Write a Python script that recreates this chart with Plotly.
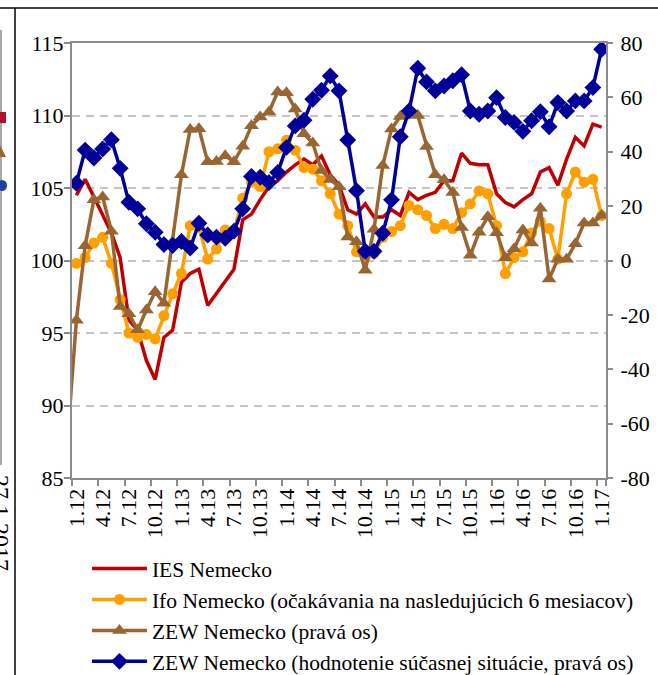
import plotly.graph_objects as go

# ---------------- data ----------------
months = [
    "12.11",
    "1.12", "2.12", "3.12", "4.12", "5.12", "6.12", "7.12", "8.12", "9.12", "10.12", "11.12", "12.12",
    "1.13", "2.13", "3.13", "4.13", "5.13", "6.13", "7.13", "8.13", "9.13", "10.13", "11.13", "12.13",
    "1.14", "2.14", "3.14", "4.14", "5.14", "6.14", "7.14", "8.14", "9.14", "10.14", "11.14", "12.14",
    "1.15", "2.15", "3.15", "4.15", "5.15", "6.15", "7.15", "8.15", "9.15", "10.15", "11.15", "12.15",
    "1.16", "2.16", "3.16", "4.16", "5.16", "6.16", "7.16", "8.16", "9.16", "10.16", "11.16", "12.16",
    "1.17",
]
tick_labels = ["1.12", "4.12", "7.12", "10.12", "1.13", "4.13", "7.13", "10.13",
               "1.14", "4.14", "7.14", "10.14", "1.15", "4.15", "7.15", "10.15",
               "1.16", "4.16", "7.16", "10.16", "1.17"]
left_ticks = [85, 90, 95, 100, 105, 110, 115]
right_ticks = [-80, -60, -40, -20, 0, 20, 40, 60, 80]
right_tick_text = ["-80", "-60", "-40", "-20", "0", "20", "40", "60", "80"]

# IES Nemecko (left axis), 1.12 - 1.17
ies = [104.5, 105.6, 104.4, 103.1, 101.9, 100.2, 95.9, 95.2, 93.1, 91.8, 94.7, 95.2,
       98.5, 99.1, 99.4, 96.9, 97.7, 98.6, 99.4, 102.8, 103.2, 104.2, 105.1, 105.5,
       106.1, 106.6, 107.0, 106.6, 107.2, 105.9, 105.2, 103.5, 103.2, 103.9, 103.0, 103.0,
       103.5, 103.1, 104.7, 104.2, 104.5, 104.7, 105.5, 105.5, 107.4, 106.7, 106.6, 106.6,
       104.6, 104.0, 103.7, 104.2, 104.6, 106.1, 106.4, 105.2, 107.0, 108.5, 107.9, 109.4,
       109.2]

# Ifo Nemecko - expectations (left axis)
ifo = [99.8, 100.2, 101.2, 101.6, 99.8, 97.3, 95.0, 94.7, 94.9, 94.6, 96.2, 97.7,
       99.1, 102.4, 102.3, 100.1, 100.8, 102.1, 102.0, 104.3, 105.4, 105.1, 107.5, 107.7,
       108.3, 107.6, 106.4, 106.3, 105.5, 104.6, 103.2, 102.4, 100.6, 100.2, 100.5, 101.6,
       102.0, 102.4, 103.8, 103.5, 103.1, 102.2, 102.5, 102.2, 103.3, 103.9, 104.8, 104.6,
       102.4, 99.1, 100.2, 100.6, 101.9, 102.7, 102.2, 100.1, 104.6, 106.1, 105.4, 105.6,
       103.1]

# ZEW Nemecko - sentiment (right axis); value for 12.11 only enters the line from the left
zew_prev = -65.0
zew = [-22.0, 5.4, 22.3, 23.4, 10.8, -16.9, -19.6, -25.5, -18.2, -11.5, -15.7, 6.9,
       31.5, 48.2, 48.5, 36.3, 36.4, 38.5, 36.3, 42.0, 49.6, 52.8, 54.6, 62.0,
       61.7, 55.7, 46.6, 43.2, 33.1, 29.8, 27.1, 8.6, 6.9, -3.6, 11.5, 34.9,
       48.4, 53.0, 54.8, 53.3, 41.9, 31.5, 29.7, 25.0, 12.1, 1.9, 10.4, 16.1,
       10.2, 1.0, 4.3, 11.2, 6.4, 19.2, -6.8, 0.5, 0.5, 6.2, 13.8, 13.8,
       16.6]

# ZEW Nemecko - current situation (right axis)
zew_cur = [28.4, 40.6, 37.7, 41.0, 44.4, 33.9, 21.4, 19.0, 13.5, 10.4, 5.9, 5.5,
           7.0, 4.6, 13.7, 9.4, 8.6, 8.2, 10.8, 19.0, 30.9, 30.6, 28.7, 32.4,
           41.6, 49.5, 51.6, 59.3, 62.6, 67.9, 62.4, 44.3, 25.7, 3.4, 3.4, 10.0,
           22.3, 45.5, 55.0, 70.7, 65.7, 62.4, 64.2, 66.1, 68.3, 55.0, 53.8, 55.0,
           59.9, 52.6, 50.8, 47.5, 51.4, 54.7, 49.2, 58.1, 55.0, 58.7, 58.7, 63.6,
           77.7]

names = [
    "IES Nemecko",
    "Ifo Nemecko (očakávania na nasledujúcich 6 mesiacov)",
    "ZEW Nemecko (pravá os)",
    "ZEW Nemecko (hodnotenie súčasnej situácie, pravá os)",
]

RED = "#C00000"
ORANGE = "#FFA000"
BROWN = "#996633"
BLUE = "#000099"
SERIF = "Liberation Serif, Times New Roman, serif"
AXIS_GREY = "#8C8C8C"
TICK_SIZE = 22

x = months[1:]
fig = go.Figure()

fig.add_trace(go.Scatter(x=x, y=ies, name=names[0], mode="lines",
                         line=dict(color=RED, width=3.5)))
fig.add_trace(go.Scatter(x=x, y=ifo, name=names[1], mode="lines+markers",
                         line=dict(color=ORANGE, width=3.5),
                         marker=dict(symbol="circle", size=11, color=ORANGE)))
# lead-in segment of the ZEW line from the previous month
fig.add_trace(go.Scatter(x=months[:2], y=[zew_prev, zew[0]], yaxis="y2", mode="lines",
                         line=dict(color=BROWN, width=3.5), showlegend=False,
                         hoverinfo="skip"))
fig.add_trace(go.Scatter(x=x, y=zew, name=names[2], yaxis="y2", mode="lines+markers",
                         line=dict(color=BROWN, width=3.5),
                         marker=dict(symbol="triangle-up", size=13, color=BROWN)))
fig.add_trace(go.Scatter(x=x, y=zew_cur, name=names[3], yaxis="y2", mode="lines+markers",
                         line=dict(color=BLUE, width=3.5),
                         marker=dict(symbol="diamond", size=13, color=BLUE)))

fig.update_layout(
    width=658, height=675, autosize=False,
    margin=dict(l=72, r=52, t=43, b=197, autoexpand=False),
    paper_bgcolor="white", plot_bgcolor="white",
    font=dict(family=SERIF, size=TICK_SIZE, color="black"),
    xaxis=dict(
        type="category", categoryorder="array", categoryarray=months,
        range=[0.5, 61.5],
        tickmode="array", tickvals=tick_labels, ticktext=tick_labels,
        tickson="boundaries", ticks="outside", ticklen=6, tickwidth=2, tickcolor=AXIS_GREY,
        tickangle=-90, tickfont=dict(family=SERIF, size=TICK_SIZE, color="black"),
        showgrid=False, showline=True, linecolor=AXIS_GREY, linewidth=2, mirror=True,
        zeroline=False,
    ),
    yaxis=dict(
        range=[85, 115], tickmode="array", tickvals=left_ticks,
        ticktext=[str(v) for v in left_ticks],
        ticks="outside", ticklen=6, tickwidth=2, tickcolor=AXIS_GREY,
        ticklabelstandoff=-4,
        tickfont=dict(family=SERIF, size=TICK_SIZE, color="black"),
        showline=True, linecolor=AXIS_GREY, linewidth=2,
        showgrid=True, gridcolor="#C4C4C4", gridwidth=2, griddash="8px,6px",
        zeroline=False,
    ),
    yaxis2=dict(
        range=[-80, 80], tickmode="array", tickvals=right_ticks, ticktext=right_tick_text,
        overlaying="y", side="right",
        ticks="outside", ticklen=5, tickwidth=2, tickcolor=AXIS_GREY,
        ticklabelstandoff=3,
        tickfont=dict(family=SERIF, size=TICK_SIZE, color="black"),
        showline=True, linecolor=AXIS_GREY, linewidth=2,
        showgrid=False, zeroline=False,
    ),
    legend=dict(
        x=0.028, y=-0.161, xanchor="left", yanchor="top",
        orientation="v",
        font=dict(family=SERIF, size=21.5, color="black"),
        bgcolor="rgba(0,0,0,0)", itemwidth=55,
    ),
    showlegend=True,
)

# page frame of the original screenshot
def px_x(v):
    return (v - 72) / 534.0

def px_y(v):
    return (478 - v) / 435.0

fig.add_shape(type="line", xref="paper", yref="paper",
              x0=px_x(0), x1=px_x(658), y0=px_y(8), y1=px_y(8),
              line=dict(color="black", width=1.5))
fig.add_shape(type="line", xref="paper", yref="paper",
              x0=px_x(15), x1=px_x(15), y0=px_y(8), y1=px_y(675),
              line=dict(color="black", width=1.5))
fig.add_shape(type="line", xref="paper", yref="paper",
              x0=px_x(1), x1=px_x(1), y0=px_y(30), y1=px_y(465),
              line=dict(color=AXIS_GREY, width=1.5))
fig.add_shape(type="rect", xref="paper", yref="paper",
              x0=px_x(0), x1=px_x(6), y0=px_y(112), y1=px_y(123),
              fillcolor="#B0102A", line=dict(width=0))
fig.add_shape(type="path", xref="paper", yref="paper",
              path="M {} {} L {} {} L {} {} Z".format(px_x(-6), px_y(157), px_x(0), px_y(145), px_x(6), px_y(157)),
              fillcolor=BROWN, line=dict(width=0))
fig.add_shape(type="circle", xref="paper", yref="paper",
              x0=px_x(-3), x1=px_x(7), y0=px_y(180), y1=px_y(191),
              fillcolor="#1F3FA0", line=dict(width=0))
fig.add_annotation(xref="paper", yref="paper", x=px_x(1), y=px_y(523),
                   xanchor="center", yanchor="middle",
                   text="27.1.2017", textangle=90, showarrow=False,
                   font=dict(family=SERIF, size=24, color="black"))

fig.write_html("out.html", config={"displayModeBar": False},
               post_script="document.body.style.margin='0px';")
